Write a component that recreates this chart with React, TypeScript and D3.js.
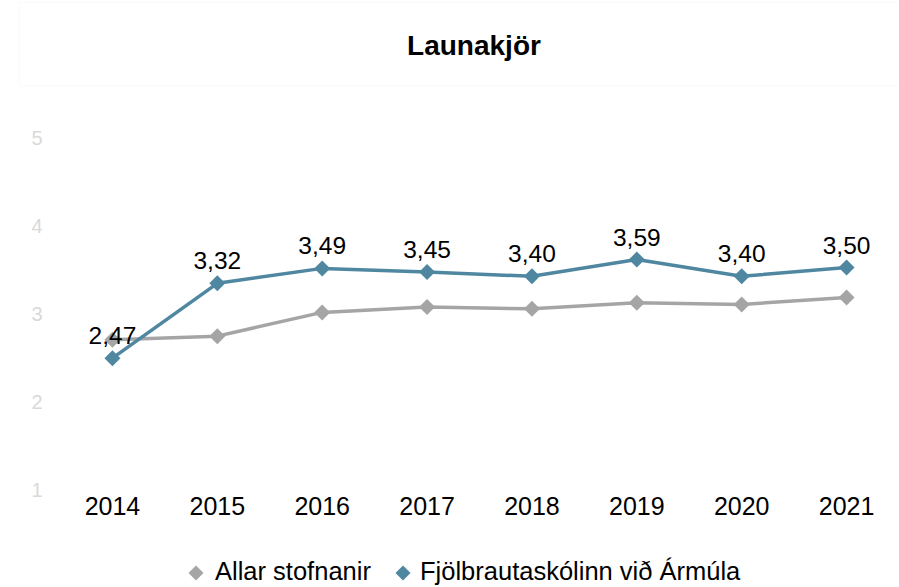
import React from "react";
import * as d3 from "d3";

const years = ["2014", "2015", "2016", "2017", "2018", "2019", "2020", "2021"];
const allarValues = [2.68, 2.72, 2.99, 3.05, 3.03, 3.1, 3.08, 3.16];
const fjolValues = [2.47, 3.32, 3.49, 3.45, 3.4, 3.59, 3.4, 3.5];
const yTicks = [1, 2, 3, 4, 5];
const seriesNames = ["Allar stofnanir", "Fjölbrautaskólinn við Ármúla"];
const seriesColors = ["#a5a5a5", "#4f87a1"];

const W = 899;
const H = 587;
const FONT = "'Liberation Sans', Arial, sans-serif";

export default function App() {
  const x = d3.scaleBand<string>().domain(years).range([60, 899]);
  const y = d3.scaleLinear().domain([1, 5]).range([487.5, 135.5]);
  const cx = (d: string) => (x(d) as number) + x.bandwidth() / 2;
  const line = d3
    .line<number>()
    .x((_, i) => cx(years[i]))
    .y((v) => y(v));
  const diamond = (px: number, py: number, r: number) =>
    `M${px},${py - r}L${px + r},${py}L${px},${py + r}L${px - r},${py}Z`;
  const fmt = (v: number) => v.toFixed(2).replace(".", ",");
  const all = [allarValues, fjolValues];

  return (
    <svg
      width={W}
      height={H}
      style={{ position: "absolute", left: 0, top: 0, background: "#fff" }}
      fontFamily={FONT}
    >
      <rect x={19.5} y={2.5} width={880} height={83.5} fill="#fff" stroke="#fafafa" />
      <text x={474} y={55} textAnchor="middle" fontSize={28} fontWeight="bold" fill="#000">
        Launakjör
      </text>
      {yTicks.map((t) => (
        <text key={t} x={37} y={y(t) + 9} textAnchor="middle" fontSize={20} fill="#d9d9d9">
          {t}
        </text>
      ))}
      {years.map((yr) => (
        <text key={yr} x={cx(yr)} y={515} textAnchor="middle" fontSize={25} fill="#000">
          {yr}
        </text>
      ))}
      {all.map((vals, si) => (
        <g key={si}>
          <path d={line(vals) || ""} fill="none" stroke={seriesColors[si]} strokeWidth={3.5} strokeLinejoin="round" />
          {vals.map((v, i) => (
            <path key={i} d={diamond(cx(years[i]), y(v), 8)} fill={seriesColors[si]} />
          ))}
        </g>
      ))}
      {fjolValues.map((v, i) => (
        <text key={i} x={cx(years[i])} y={y(v) - 14} textAnchor="middle" fontSize={24.5} fill="#000">
          {fmt(v)}
        </text>
      ))}
      <g>
        <path d={diamond(196, 573, 7.5)} fill={seriesColors[0]} />
        <text x={215} y={580} fontSize={25.5} fill="#000">{seriesNames[0]}</text>
        <path d={diamond(403, 573, 7.5)} fill={seriesColors[1]} />
        <text x={420} y={580} fontSize={25.5} fill="#000">{seriesNames[1]}</text>
      </g>
    </svg>
  );
}
